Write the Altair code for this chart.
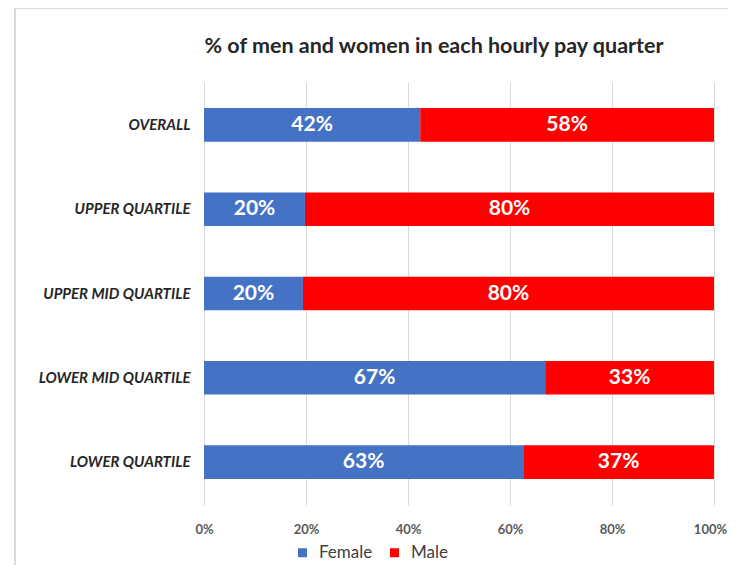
import altair as alt
import pandas as pd

categories = ["OVERALL", "UPPER QUARTILE", "UPPER MID QUARTILE", "LOWER MID QUARTILE", "LOWER QUARTILE"]
female = [42.4, 19.8, 19.4, 66.9, 62.6]
male = [57.6, 80.2, 80.6, 33.1, 37.4]
female_labels = ["42%", "20%", "20%", "67%", "63%"]
male_labels = ["58%", "80%", "80%", "33%", "37%"]
series = ["Female", "Male"]
colors = ["#4472C4", "#FF0000"]
x_ticks = [0, 20, 40, 60, 80, 100]
title_text = "% of men and women in each hourly pay quarter"

rows = []
for i, c in enumerate(categories):
    rows.append({"category": c, "sex": "Female", "value": female[i], "label": female_labels[i], "order": 0})
    rows.append({"category": c, "sex": "Male", "value": male[i], "label": male_labels[i], "order": 1})
df = pd.DataFrame(rows)

FONT = "Lato"

base = alt.Chart(df).transform_stack(
    stack="value", groupby=["category"], as_=["x0", "x1"], sort=[alt.SortField("order")]
).transform_calculate(mid="(datum.x0 + datum.x1) / 2")

yenc = alt.Y(
    "category:N",
    sort=categories,
    scale=alt.Scale(paddingInner=0.6, paddingOuter=0.31),
    axis=alt.Axis(
        title=None, ticks=False, domain=False, grid=False,
        labelFont=FONT, labelFontSize=15, labelFontWeight="bold", labelFontStyle="italic",
        labelColor="#262626", labelPadding=14,
    ),
)

bars = base.mark_bar().encode(
    y=yenc,
    x=alt.X(
        "x0:Q",
        scale=alt.Scale(domain=[0, 100], nice=False),
        axis=alt.Axis(
            title=None, values=x_ticks, labelExpr="datum.value + '%'",
            ticks=False, domain=False, grid=True, gridColor="#D9D9D9",
            labelFont=FONT, labelFontSize=13, labelFontWeight="bold", labelColor="#595959",
            labelPadding=18, labelFlush=False,
            labelOffset={"condition": {"test": "datum.value == 100", "value": -4}, "value": 0},
        ),
    ),
    x2="x1:Q",
    color=alt.Color(
        "sex:N",
        scale=alt.Scale(domain=series, range=colors),
        legend=alt.Legend(
            title=None, orient="none", direction="horizontal", legendX=90, legendY=462,
            symbolType="square", symbolSize=81, symbolStrokeWidth=0, labelOffset=8,
            labelFont=FONT, labelFontSize=17, labelColor="#404040", columnPadding=13,
        ),
    ),
)

text = base.mark_text(
    font=FONT, fontSize=21, fontWeight="bold", color="white", baseline="middle", align="center"
).encode(
    y=alt.Y("category:N", sort=categories),
    x=alt.X("mid:Q"),
    text="label:N",
)

title = alt.Chart(pd.DataFrame({"t": [title_text]})).mark_text(
    font=FONT, fontSize=21.5, fontWeight="bold", color="#262626", align="center", baseline="middle", clip=False
).encode(x=alt.value(230), y=alt.value(-35), text="t:N")

border_left = alt.Chart(df).mark_rule(color="#D9D9D9", strokeWidth=1, clip=False).encode(
    x=alt.value(-189), y=alt.value(-73.5), y2=alt.value(495)
)
border_top = alt.Chart(df).mark_rule(color="#D9D9D9", strokeWidth=1, clip=False).encode(
    x=alt.value(-189), x2=alt.value(540), y=alt.value(-73.5)
)

chart = alt.layer(border_left, border_top, bars, text, title).properties(
    width=510,
    height=423,
    autosize=alt.AutoSizeParams(type="none"),
    padding={"left": 196, "top": 74, "right": 14, "bottom": 60},
).configure_view(stroke=None)

chart.save("out.html", embed_options={"renderer": "svg", "actions": False})
